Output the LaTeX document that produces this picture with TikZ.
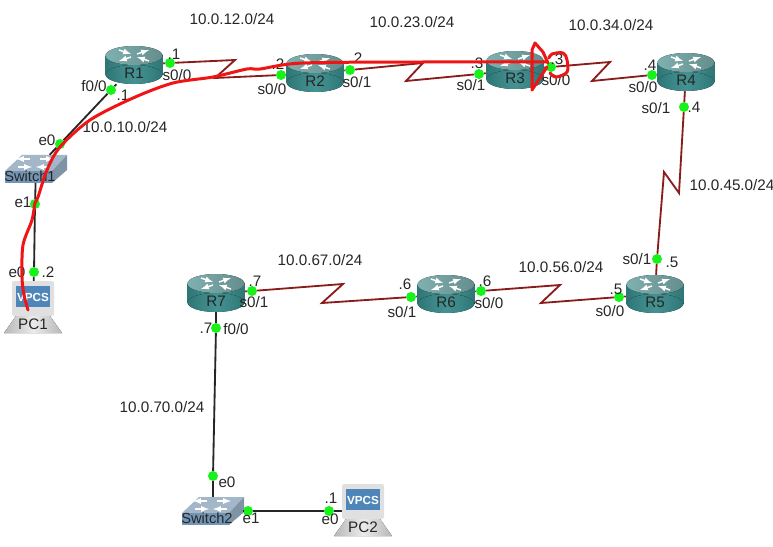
\documentclass[tikz,border=0pt]{standalone}
\usepackage{fontspec}
\setmainfont{Liberation Sans}
\usepackage{tikz}
\usetikzlibrary{arrows}

\definecolor{routerdk}{HTML}{2F7777}
\definecolor{routermd}{HTML}{459292}
\definecolor{routertop}{HTML}{7FB0B0}
\definecolor{serialred}{HTML}{8B1C1C}
\definecolor{dotgreen}{HTML}{16F21A}
\definecolor{swfront}{HTML}{7395B5}
\definecolor{swtop}{HTML}{A3B7C9}
\definecolor{swside}{HTML}{7F93A6}
\definecolor{pcscreen}{HTML}{4F86BA}
\definecolor{penred}{HTML}{F01414}

\begin{document}
\begin{tikzpicture}[
    x=0.3mm, y=-0.3mm,
    font=\fontsize{13pt}{15pt}\selectfont,
    router/.style={rectangle, minimum width=17.4mm, minimum height=11.4mm, inner sep=0pt},
    swbox/.style={rectangle, minimum width=18.6mm, minimum height=8.4mm, inner sep=0pt},
    pcbox/.style={rectangle, minimum width=12.3mm, minimum height=10.2mm, inner sep=0pt},
    devlbl/.style={inner sep=0pt, text=black!85},
    vpcs/.style={inner sep=0pt, text=white, font=\fontsize{10pt}{12pt}\selectfont\bfseries},
    port/.style={circle, fill=dotgreen, minimum size=3mm, inner sep=0pt, draw=none},
    lbl/.style={inner sep=0pt, text=black!85},
    serial/.style={serialred, line width=0.55mm, line join=miter},
    ether/.style={black!85, line width=0.55mm},
    arr/.style={->, >=latex, white, line width=0.45mm},
    pen/.style={penred, line width=0.9mm, line join=round, line cap=round},
]
\useasboundingbox (0,0) rectangle (773,547);

% ---------- routers ----------
\foreach \n/\x/\y in {R1/134/65, R2/315/73, R3/515/70, R4/686/72, R5/655/294, R6/446/294, R7/216/293} {
  \begin{scope}[shift={(\x,\y)}]
    \fill[left color=routerdk, right color=routerdk, middle color=routermd] (-28.5,-9.5) rectangle (28.5,9.5);
    \fill[left color=routerdk, right color=routerdk, middle color=routermd] (0,9.5) ellipse [x radius=28.5, y radius=9.5];
    \fill[left color=routertop, right color=routertop!80!black] (0,-9.5) ellipse [x radius=28.5, y radius=9.5];
    \draw[arr] (-15,-15) -- (-3,-11);
    \draw[arr] (15,-4) -- (3,-8);
    \draw[arr] (3,-11) -- (15,-15);
    \draw[arr] (-3,-8) -- (-15,-4);
    \node[router] (\n) at (0,0) {};
    \node[devlbl] (\n lbl) at (0,8) {\n};
  \end{scope}
}

% ---------- switches ----------
\foreach \n/\x/\y in {Switch1/36/169, Switch2/213/511} {
  \begin{scope}[shift={(\x,\y)}]
    \fill[swtop] (-31,2) -- (-14,-14) -- (31,-14) -- (16,2) -- cycle;
    \fill[swside] (16,2) -- (31,-14) -- (31,1) -- (16,14) -- cycle;
    \fill[swfront] (-31,2) rectangle (16,14);
    \draw[arr] (-18,-2) -- (-4,-2);
    \draw[arr] (14,-2) -- (0,-2);
    \draw[arr] (-6,-10) -- (-20,-10);
    \draw[arr] (4,-10) -- (18,-10);
    \node[swbox] (\n) at (0,0) {};
    \node[devlbl, font=\fontsize{12.5pt}{15pt}\selectfont] (\n lbl) at (-6,7) {\n};
  \end{scope}
}

% ---------- vpcs hosts ----------
\foreach \n/\x/\y in {PC1/33/298, PC2/363/501} {
  \begin{scope}[shift={(\x,\y)}]
    \fill[black!12, rounded corners=2pt] (-21,-17) rectangle (21,18);
    \fill[left color=black!28, right color=black!28, middle color=black!8] (-17,18) -- (17,18) -- (29,35) -- (-29,35) -- cycle;
    \fill[pcscreen] (-17,-12) rectangle (17,9);
    \node[pcbox] (\n) at (0,0) {};
    \node[vpcs] (\n scr) at (0,-1) {VPCS};
    \node[devlbl] (\n lbl) at (0,26) {\n};
  \end{scope}
}

% ---------- ports ----------
\node[port] (r1s) at (170,63) {};
\node[port] (r1f) at (111,90) {};
\node[port] (s1a) at (60,144) {};
\node[port] (s1b) at (35,204) {};
\node[port] (pc1e) at (34,272) {};
\node[port] (r2a) at (281,75) {};
\node[port] (r2b) at (350,70) {};
\node[port] (r3a) at (479,74) {};
\node[port] (r3b) at (551,67) {};
\node[port] (r4a) at (652,75) {};
\node[port] (r4b) at (684,107) {};
\node[port] (r5a) at (657,259) {};
\node[port] (r5b) at (619,297) {};
\node[port] (r6a) at (481,291) {};
\node[port] (r6b) at (411,297) {};
\node[port] (r7a) at (252,291) {};
\node[port] (r7f) at (216,328) {};
\node[port] (s2a) at (213,476) {};
\node[port] (s2b) at (248,511) {};
\node[port] (pc2e) at (329,511) {};

% ---------- serial links ----------
\draw[serial] (R1) -- (r1s) -- (235,60) -- (215,78) -- (r2a) -- (R2);
\draw[serial] (R2) -- (r2b) -- (423,63) -- (406,81) -- (r3a) -- (R3);
\draw[serial] (R3) -- (r3b) -- (610,62) -- (592,81) -- (r4a) -- (R4);
\draw[serial] (R4) -- (r4b) -- (679,193) -- (664,172) -- (r5a) -- (R5);
\draw[serial] (R5) -- (r5b) -- (541,303) -- (560,285) -- (r6a) -- (R6);
\draw[serial] (R6) -- (r6b) -- (322,303) -- (343,284) -- (r7a) -- (R7);

% ---------- ethernet links ----------
\draw[ether] (R1) -- (r1f) -- (s1a) -- (Switch1);
\draw[ether] (Switch1) -- (s1b) -- (pc1e) -- (PC1);
\draw[ether] (R7) -- (r7f) -- (s2a) -- (Switch2);
\draw[ether] (s2b) -- (pc2e);
\draw[ether] (s2b) -- (Switch2);
\draw[ether] (pc2e) -- (pc2e -| PC2.west);

% ---------- networks ----------
\node[lbl] (n12) at (232,19) {10.0.12.0/24};
\node[lbl] (n23) at (412,22) {10.0.23.0/24};
\node[lbl] (n34) at (611,25) {10.0.34.0/24};
\node[lbl] (n10) at (125,127) {10.0.10.0/24};
\node[lbl] (n45) at (732,185) {10.0.45.0/24};
\node[lbl] (n67) at (320,260) {10.0.67.0/24};
\node[lbl] (n56) at (561,267) {10.0.56.0/24};
\node[lbl] (n70) at (162,407) {10.0.70.0/24};

% ---------- port labels ----------
\node[lbl] (l1) at (174,54) {.1};
\node[lbl] (l2) at (177,75) {s0/0};
\node[lbl] (l3) at (94,86) {f0/0};
\node[lbl] (l4) at (123,95) {.1};
\node[lbl] (l5) at (47,140) {e0};
\node[lbl] (l6) at (23,202) {e1};
\node[lbl] (l7) at (17,272) {e0};
\node[lbl] (l8) at (48,272) {.2};
\node[lbl] (l9) at (278,64) {.2};
\node[lbl] (l10) at (272,89) {s0/0};
\node[lbl] (l11) at (356,58) {.2};
\node[lbl] (l12) at (357,82) {s0/1};
\node[lbl] (l13) at (477,63) {.3};
\node[lbl] (l14) at (471,85) {s0/1};
\node[lbl] (l15) at (557,59) {.3};
\node[lbl] (l16) at (556,80) {s0/0};
\node[lbl] (l17) at (650,65) {.4};
\node[lbl] (l18) at (643,87) {s0/0};
\node[lbl] (l19) at (656,108) {s0/1};
\node[lbl] (l20) at (694,107) {.4};
\node[lbl] (l21) at (637,259) {s0/1};
\node[lbl] (l22) at (672,262) {.5};
\node[lbl] (l23) at (616,289) {.5};
\node[lbl] (l24) at (610,311) {s0/0};
\node[lbl] (l25) at (485,281) {.6};
\node[lbl] (l26) at (489,303) {s0/0};
\node[lbl] (l27) at (405,284) {.6};
\node[lbl] (l28) at (402,312) {s0/1};
\node[lbl] (l29) at (255,281) {.7};
\node[lbl] (l30) at (254,302) {s0/1};
\node[lbl] (l31) at (206,328) {.7};
\node[lbl] (l32) at (236,329) {f0/0};
\node[lbl] (l33) at (227,482) {e0};
\node[lbl] (l34) at (251,518) {e1};
\node[lbl] (l35) at (331,498) {.1};
\node[lbl] (l36) at (330,519) {e0};

% ---------- red pen trace ----------
\draw[pen] plot[smooth, tension=0.5] coordinates {(28,310) (24,295) (22,277) (23,245) (32,220) (35,203) (38,197) (47,170) (60,147) (90,120) (133,98) (173,83) (213,77) (247,69) (260,69) (303,63) (423,62) (520,62) (547,62)};
\draw[pen] (547,67) -- (532,90) -- (532,50) -- (535,43) -- (543,52) -- (548,63);
\draw[pen] plot[smooth, tension=0.6] coordinates {(549,58) (552,54) (563,53) (567,60) (567,72) (556,77) (550,73)};

\end{tikzpicture}
\end{document}
